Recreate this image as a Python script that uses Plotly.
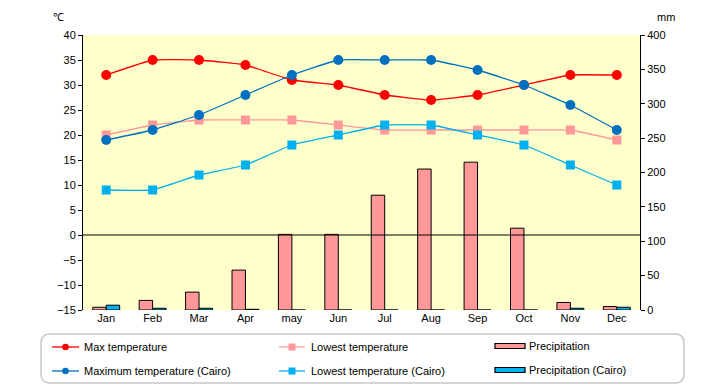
import plotly.graph_objects as go

months = ["Jan", "Feb", "Mar", "Apr", "may", "Jun", "Jul", "Aug", "Sep", "Oct", "Nov", "Dec"]
max_temp = [32, 35, 35, 34, 31, 30, 28, 27, 28, 30, 32, 32]
low_temp = [20, 22, 23, 23, 23, 22, 21, 21, 21, 21, 21, 19]
precip = [4, 14, 26, 58, 110, 110, 167, 205, 215, 119, 11, 5]
cairo_max = [19, 21, 24, 28, 32, 35, 35, 35, 33, 30, 26, 21]
cairo_low = [9, 9, 12, 14, 18, 20, 22, 22, 20, 18, 14, 10]
cairo_precip = [7, 2.5, 2.5, 1, 0, 0, 0, 0, 0, 0, 2.5, 4]

FONT = "Liberation Sans"
W, H = 720, 385
L, R, T, B = 83, 80, 35, 75

RED = "#FF0000"
PINK = "#FF9999"
BLUE = "#0070C0"
CYAN = "#00B0F0"

fig = go.Figure()

fig.add_trace(go.Bar(x=months, y=precip, name="Precipitation", yaxis="y",
                     marker=dict(color=PINK, line=dict(color="black", width=1))))
fig.add_trace(go.Bar(x=months, y=cairo_precip, name="Precipitation (Cairo)", yaxis="y",
                     marker=dict(color=CYAN, line=dict(color="black", width=1))))

line_specs = [
    ("Max temperature", max_temp, RED, "circle", 10),
    ("Lowest temperature", low_temp, PINK, "square", 9),
    ("Maximum temperature (Cairo)", cairo_max, BLUE, "circle", 10),
    ("Lowest temperature (Cairo)", cairo_low, CYAN, "square", 9),
]
for name, vals, col, sym, sz in line_specs:
    fig.add_trace(go.Scatter(x=months, y=vals, name=name, yaxis="y2", mode="lines+markers",
                             line=dict(color=col, width=1.3, shape="spline", smoothing=0.3),
                             marker=dict(symbol=sym, size=sz, color=col)))

pw = W - L - R
ph = H - T - B

def px2paper(x, y):
    return (x - L) / pw, (H - B - y) / ph

def P(x, y):
    a, b = px2paper(x, y)
    return f"{a:.5f},{b:.5f}"

shapes = [
    dict(type="line", xref="paper", yref="y2", x0=0, x1=1, y0=0, y1=0,
         line=dict(color="black", width=1), layer="above"),
]

# rounded legend box
x0, y0, x1, y1, r = 41, 334, 684, 383, 9
path = (f"M {P(x0+r,y0)} L {P(x1-r,y0)} Q {P(x1,y0)} {P(x1,y0+r)} L {P(x1,y1-r)} "
        f"Q {P(x1,y1)} {P(x1-r,y1)} L {P(x0+r,y1)} Q {P(x0,y1)} {P(x0,y1-r)} "
        f"L {P(x0,y0+r)} Q {P(x0,y0)} {P(x0+r,y0)} Z")
shapes.append(dict(type="path", xref="paper", yref="paper", path=path,
                   line=dict(color="#C8C8C8", width=1.5), fillcolor="white", layer="above"))

annotations = [
    dict(text="℃", x=px2paper(58, 17)[0], y=px2paper(58, 17)[1]),
    dict(text="mm", x=px2paper(666, 17)[0], y=px2paper(666, 17)[1]),
]
for a in annotations:
    a.update(xref="paper", yref="paper", xanchor="center", yanchor="middle", showarrow=False,
             font=dict(family=FONT, size=11, color="black"))

# manual legend entries: (label, kind, color, symbol, x_symbol_start, x_symbol_end, text_x, y)
legend_items = [
    ("Max temperature", "line", RED, "circle", 52, 79, 82, 347),
    ("Lowest temperature", "line", PINK, "square", 279, 305, 309, 347),
    ("Precipitation", "bar", PINK, None, 495, 525, 527, 346),
    ("Maximum temperature (Cairo)", "line", BLUE, "circle", 52, 79, 82, 371),
    ("Lowest temperature (Cairo)", "line", CYAN, "square", 279, 305, 309, 371),
    ("Precipitation (Cairo)", "bar", CYAN, None, 495, 525, 527, 370),
]
for label, kind, col, sym, sx0, sx1, tx, ly in legend_items:
    if kind == "line":
        a0, b0 = px2paper(sx0, ly)
        a1, _ = px2paper(sx1, ly)
        shapes.append(dict(type="line", xref="paper", yref="paper", x0=a0, x1=a1, y0=b0, y1=b0,
                           line=dict(color=col, width=1.3), layer="above"))
        cx = (sx0 + sx1) / 2
        if sym == "circle":
            rr = 3.3
            q0, r0 = px2paper(cx - rr, ly + rr)
            q1, r1 = px2paper(cx + rr, ly - rr)
            shapes.append(dict(type="circle", xref="paper", yref="paper", x0=q0, x1=q1, y0=r0, y1=r1,
                               fillcolor=col, line=dict(color=col, width=0), layer="above"))
        else:
            rr = 3.5
            q0, r0 = px2paper(cx - rr, ly + rr)
            q1, r1 = px2paper(cx + rr, ly - rr)
            shapes.append(dict(type="rect", xref="paper", yref="paper", x0=q0, x1=q1, y0=r0, y1=r1,
                               fillcolor=col, line=dict(color=col, width=0), layer="above"))
    else:
        q0, r0 = px2paper(sx0, ly + 2.5)
        q1, r1 = px2paper(sx1, ly - 2.5)
        shapes.append(dict(type="rect", xref="paper", yref="paper", x0=q0, x1=q1, y0=r0, y1=r1,
                           fillcolor=col, line=dict(color="black", width=1.2), layer="above"))
    tx_p, ty_p = px2paper(tx, ly)
    annotations.append(dict(text=label, xref="paper", yref="paper", x=tx_p, y=ty_p,
                            xanchor="left", yanchor="middle", showarrow=False,
                            font=dict(family=FONT, size=11, color="black")))

fig.update_layout(
    width=W, height=H,
    margin=dict(l=L, r=R, t=T, b=B, autoexpand=False),
    paper_bgcolor="white",
    plot_bgcolor="#FFFFCC",
    font=dict(family=FONT, size=11, color="black"),
    barmode="group",
    bargap=0.42,
    bargroupgap=0,
    showlegend=False,
    xaxis=dict(type="category", range=[-0.5, len(months) - 0.5], autorange=False,
               showgrid=False, showline=False, ticks="", automargin=False,
               tickfont=dict(family=FONT, size=11), fixedrange=True),
    yaxis=dict(range=[0, 400], dtick=50, side="right", showgrid=False, zeroline=False,
               showline=True, linecolor="black", linewidth=1, ticks="outside", ticklen=4,
               tickcolor="black", automargin=False, tickfont=dict(family=FONT, size=11)),
    yaxis2=dict(range=[-15, 40], dtick=5, side="left", overlaying="y", showgrid=False,
                zeroline=False, showline=True, linecolor="black", linewidth=1,
                ticks="outside", ticklen=4, tickcolor="black", automargin=False,
                tickfont=dict(family=FONT, size=11)),
    shapes=shapes,
    annotations=annotations,
)

fig.write_html(
    "out.html",
    config={"displayModeBar": False},
    post_script="document.body.style.margin='0';document.body.style.padding='0';"
                "document.body.style.overflow='hidden';",
)
